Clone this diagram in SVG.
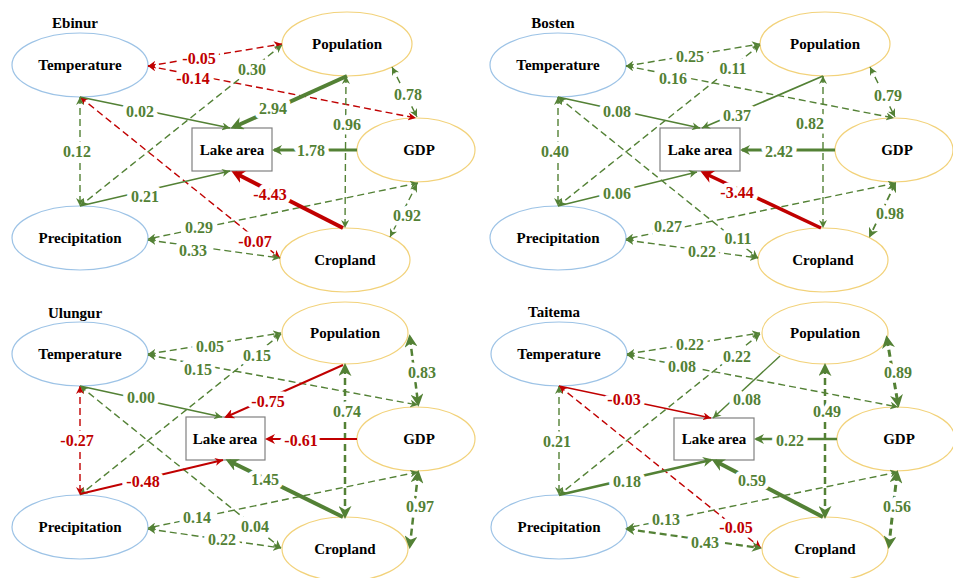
<svg xmlns="http://www.w3.org/2000/svg" width="953" height="578" viewBox="0 0 953 578">
<style>
.bg{fill:#fff}
.nb{fill:#fff;stroke:#9DC3E6;stroke-width:1.2}
.ny{fill:#fff;stroke:#F2D27A;stroke-width:1.2}
.lk{fill:#fff;stroke:#808080;stroke-width:1.2}
.t{font-family:"Liberation Serif","Times New Roman",serif;font-weight:bold;font-size:15px;text-anchor:middle;fill:#000}
.g{stroke:#538135;fill:none;stroke-width:1.4}
.r{stroke:#C00000;fill:none;stroke-width:1.4}
.d{stroke-dasharray:7 4}
.lg{font-size:16px;fill:#538135;stroke:#fff;stroke-width:9;paint-order:stroke;stroke-linejoin:round}
.lr{font-size:16px;fill:#C00000;stroke:#fff;stroke-width:9;paint-order:stroke;stroke-linejoin:round}
</style>
<defs>
<marker id="ags" viewBox="0 0 10 10" refX="10" refY="5" markerWidth="8" markerHeight="8" markerUnits="userSpaceOnUse" orient="auto-start-reverse"><path d="M0,0 L10,5 L0,10 L3,5z" fill="#538135"/></marker>
<marker id="ars" viewBox="0 0 10 10" refX="10" refY="5" markerWidth="8" markerHeight="8" markerUnits="userSpaceOnUse" orient="auto-start-reverse"><path d="M0,0 L10,5 L0,10 L3,5z" fill="#C00000"/></marker>
<marker id="agm" viewBox="0 0 10 10" refX="8" refY="5" markerWidth="10" markerHeight="10" markerUnits="userSpaceOnUse" orient="auto-start-reverse"><path d="M0,0 L10,5 L0,10 L3,5z" fill="#538135"/></marker>
<marker id="arm" viewBox="0 0 10 10" refX="8" refY="5" markerWidth="10" markerHeight="10" markerUnits="userSpaceOnUse" orient="auto-start-reverse"><path d="M0,0 L10,5 L0,10 L3,5z" fill="#C00000"/></marker>
<marker id="agl" viewBox="0 0 10 10" refX="7" refY="5" markerWidth="13" markerHeight="13" markerUnits="userSpaceOnUse" orient="auto-start-reverse"><path d="M0,0 L10,5 L0,10 L3,5z" fill="#538135"/></marker>
<marker id="arl" viewBox="0 0 10 10" refX="7" refY="5" markerWidth="13" markerHeight="13" markerUnits="userSpaceOnUse" orient="auto-start-reverse"><path d="M0,0 L10,5 L0,10 L3,5z" fill="#C00000"/></marker>
</defs>
<rect class="bg" x="0" y="0" width="953" height="578"/>

<!-- ===== Ebinur ===== -->
<g id="ebinur" transform="translate(0,0)">
<text class="t" x="75" y="28">Ebinur</text>
<g id="ebinur-temperature"><ellipse class="nb" cx="80" cy="65" rx="68" ry="32"/><text class="t" x="80" y="70">Temperature</text></g>
<g id="ebinur-precipitation"><ellipse class="nb" cx="80" cy="238" rx="68" ry="32"/><text class="t" x="80" y="243">Precipitation</text></g>
<g id="ebinur-population"><ellipse class="ny" cx="347" cy="44" rx="65" ry="32"/><text class="t" x="347" y="49">Population</text></g>
<g id="ebinur-gdp"><ellipse class="ny" cx="416" cy="150" rx="59" ry="32"/><text class="t" x="419" y="155">GDP</text></g>
<g id="ebinur-cropland"><ellipse class="ny" cx="345" cy="260" rx="65" ry="32"/><text class="t" x="345" y="265">Cropland</text></g>
<g id="ebinur-lake"><rect class="lk" x="192" y="128" width="80" height="43"/><text class="t" x="232" y="155">Lake area</text></g>
<g id="ebinur-connectors">
<line class="r d" x1="148" y1="66" x2="282" y2="44" marker-start="url(#ars)" marker-end="url(#ars)"/>
<line class="r d" x1="148" y1="66" x2="416" y2="118" marker-start="url(#ars)" marker-end="url(#ars)"/>
<line class="r d" x1="80" y1="97" x2="280" y2="258" marker-start="url(#ars)" marker-end="url(#ars)"/>
<line class="g d" x1="80" y1="97" x2="80" y2="206" marker-start="url(#ags)" marker-end="url(#ags)"/>
<line class="g d" x1="282" y1="45" x2="80" y2="206" marker-start="url(#ags)" marker-end="url(#ags)"/>
<line class="g d" x1="392" y1="67" x2="417" y2="117" marker-start="url(#ags)" marker-end="url(#ags)"/>
<line class="g d" x1="346" y1="76" x2="345" y2="228" marker-start="url(#ags)" marker-end="url(#ags)"/>
<line class="g d" x1="418" y1="183" x2="148" y2="239" marker-start="url(#ags)" marker-end="url(#ags)"/>
<line class="g d" x1="417" y1="184" x2="390" y2="237" marker-start="url(#ags)" marker-end="url(#ags)"/>
<line class="g d" x1="148" y1="240" x2="280" y2="258" marker-start="url(#ags)" marker-end="url(#ags)"/>
<line class="g" x1="80" y1="97" x2="230" y2="128" marker-end="url(#ags)"/>
<line class="g" x1="80" y1="206" x2="230" y2="171" marker-end="url(#ags)"/>
<line class="g" style="stroke-width:4" x1="347" y1="76" x2="234" y2="127" marker-end="url(#agl)"/>
<line class="g" style="stroke-width:3" x1="357" y1="150" x2="274" y2="150" marker-end="url(#agm)"/>
<line class="r" style="stroke-width:4" x1="343" y1="228" x2="235" y2="173" marker-end="url(#arl)"/>
<text class="t lr" x="199" y="64">-0.05</text>
<text class="t lr" x="193" y="84">-0.14</text>
<text class="t lr" x="255" y="247">-0.07</text>
<text class="t lg" x="77" y="157">0.12</text>
<text class="t lg" x="252" y="75">0.30</text>
<text class="t lg" x="408" y="100">0.78</text>
<text class="t lg" x="347" y="130">0.96</text>
<text class="t lg" x="199" y="233">0.29</text>
<text class="t lg" x="407" y="221">0.92</text>
<text class="t lg" x="193" y="256">0.33</text>
<text class="t lg" x="140" y="117">0.02</text>
<text class="t lg" x="145" y="202">0.21</text>
<text class="t lg" x="273" y="114">2.94</text>
<text class="t lg" x="311" y="156">1.78</text>
<text class="t lr" x="270" y="200">-4.43</text>
</g>
</g>

<!-- ===== Bosten ===== -->
<g id="bosten" transform="translate(478,0)">
<text class="t" x="75" y="28">Bosten</text>
<g id="bosten-temperature"><ellipse class="nb" cx="80" cy="65" rx="68" ry="32"/><text class="t" x="80" y="70">Temperature</text></g>
<g id="bosten-precipitation"><ellipse class="nb" cx="80" cy="238" rx="68" ry="32"/><text class="t" x="80" y="243">Precipitation</text></g>
<g id="bosten-population"><ellipse class="ny" cx="347" cy="44" rx="65" ry="32"/><text class="t" x="347" y="49">Population</text></g>
<g id="bosten-gdp"><ellipse class="ny" cx="416" cy="150" rx="59" ry="32"/><text class="t" x="419" y="155">GDP</text></g>
<g id="bosten-cropland"><ellipse class="ny" cx="345" cy="260" rx="65" ry="32"/><text class="t" x="345" y="265">Cropland</text></g>
<g id="bosten-lake"><rect class="lk" x="182" y="128" width="80" height="43"/><text class="t" x="222" y="155">Lake area</text></g>
<g id="bosten-connectors">
<line class="g d" x1="148" y1="66" x2="282" y2="44" marker-start="url(#ags)" marker-end="url(#ags)"/>
<line class="g d" x1="148" y1="66" x2="416" y2="118" marker-start="url(#ags)" marker-end="url(#ags)"/>
<line class="g d" x1="80" y1="97" x2="280" y2="258" marker-start="url(#ags)" marker-end="url(#ags)"/>
<line class="g d" x1="80" y1="97" x2="80" y2="206" marker-start="url(#ags)" marker-end="url(#ags)"/>
<line class="g d" x1="282" y1="45" x2="80" y2="206" marker-start="url(#ags)" marker-end="url(#ags)"/>
<line class="g d" x1="392" y1="67" x2="417" y2="117" marker-start="url(#ags)" marker-end="url(#ags)"/>
<line class="g d" x1="345" y1="76" x2="345" y2="228" marker-start="url(#ags)" marker-end="url(#ags)"/>
<line class="g d" x1="418" y1="183" x2="148" y2="239" marker-start="url(#ags)" marker-end="url(#ags)"/>
<line class="g d" style="stroke-width:1.8" x1="417" y1="184" x2="392" y2="236" marker-start="url(#agm)" marker-end="url(#agm)"/>
<line class="g d" x1="148" y1="240" x2="280" y2="258" marker-start="url(#ags)" marker-end="url(#ags)"/>
<line class="g" x1="80" y1="97" x2="222" y2="128" marker-end="url(#ags)"/>
<line class="g" x1="80" y1="206" x2="219" y2="172" marker-end="url(#ags)"/>
<line class="g" style="stroke-width:1.8" x1="345" y1="76" x2="224" y2="128" marker-end="url(#ags)"/>
<line class="g" style="stroke-width:3" x1="357" y1="150" x2="264" y2="150" marker-end="url(#agm)"/>
<line class="r" style="stroke-width:3.5" x1="343" y1="228" x2="226" y2="173" marker-end="url(#arl)"/>
<text class="t lg" x="212" y="62">0.25</text>
<text class="t lg" x="195" y="84">0.16</text>
<text class="t lg" x="260" y="244">0.11</text>
<text class="t lg" x="77" y="157">0.40</text>
<text class="t lg" x="255" y="74">0.11</text>
<text class="t lg" x="410" y="101">0.79</text>
<text class="t lg" x="332" y="129">0.82</text>
<text class="t lg" x="190" y="232">0.27</text>
<text class="t lg" x="412" y="219">0.98</text>
<text class="t lg" x="224" y="257">0.22</text>
<text class="t lg" x="139" y="117">0.08</text>
<text class="t lg" x="139" y="199">0.06</text>
<text class="t lg" x="259" y="121">0.37</text>
<text class="t lg" x="301" y="157">2.42</text>
<text class="t lr" x="259" y="198">-3.44</text>
</g>
</g>

<!-- ===== Ulungur ===== -->
<g id="ulungur" transform="translate(0,289)">
<text class="t" x="75" y="29">Ulungur</text>
<g id="ulungur-temperature"><ellipse class="nb" cx="80" cy="65" rx="68" ry="32"/><text class="t" x="80" y="70">Temperature</text></g>
<g id="ulungur-precipitation"><ellipse class="nb" cx="80" cy="238" rx="68" ry="32"/><text class="t" x="80" y="243">Precipitation</text></g>
<g id="ulungur-population"><ellipse class="ny" cx="345" cy="44" rx="63" ry="31"/><text class="t" x="345" y="49">Population</text></g>
<g id="ulungur-gdp"><ellipse class="ny" cx="416" cy="150" rx="59" ry="32"/><text class="t" x="419" y="155">GDP</text></g>
<g id="ulungur-cropland"><ellipse class="ny" cx="345" cy="260" rx="63" ry="32"/><text class="t" x="345" y="265">Cropland</text></g>
<g id="ulungur-lake"><rect class="lk" x="186" y="128" width="79" height="43"/><text class="t" x="225" y="155">Lake area</text></g>
<g id="ulungur-connectors">
<line class="g d" x1="148" y1="65" x2="281" y2="44" marker-start="url(#ags)" marker-end="url(#ags)"/>
<line class="g d" x1="148" y1="66" x2="418" y2="116" marker-start="url(#ags)" marker-end="url(#ags)"/>
<line class="g d" x1="80" y1="97" x2="281" y2="259" marker-start="url(#ags)" marker-end="url(#ags)"/>
<line class="r d" x1="80" y1="97" x2="80" y2="206" marker-start="url(#ars)" marker-end="url(#ars)"/>
<line class="g d" x1="281" y1="45" x2="80" y2="206" marker-start="url(#ags)" marker-end="url(#ags)"/>
<line class="g d" style="stroke-width:2.5" x1="410" y1="49" x2="418" y2="114" marker-start="url(#agl)" marker-end="url(#agl)"/>
<line class="g d" style="stroke-width:2.5" x1="345" y1="78" x2="345" y2="226" marker-start="url(#agl)" marker-end="url(#agl)"/>
<line class="g d" x1="418" y1="183" x2="148" y2="239" marker-start="url(#ags)" marker-end="url(#ags)"/>
<line class="g d" style="stroke-width:2.5" x1="418" y1="185" x2="410" y2="256" marker-start="url(#agl)" marker-end="url(#agl)"/>
<line class="g d" x1="148" y1="240" x2="281" y2="259" marker-start="url(#ags)" marker-end="url(#ags)"/>
<line class="g" x1="80" y1="97" x2="222" y2="128" marker-end="url(#ags)"/>
<line class="r" style="stroke-width:1.8" x1="80" y1="205" x2="223" y2="171" marker-end="url(#ars)"/>
<line class="r" style="stroke-width:2" x1="343" y1="76" x2="226" y2="128" marker-end="url(#arm)"/>
<line class="r" style="stroke-width:2" x1="357" y1="150" x2="267" y2="150" marker-end="url(#arm)"/>
<line class="g" style="stroke-width:4" x1="343" y1="228" x2="229" y2="172" marker-end="url(#agl)"/>
<text class="t lg" x="210" y="63">0.05</text>
<text class="t lg" x="198" y="86">0.15</text>
<text class="t lg" x="255" y="243">0.04</text>
<text class="t lr" x="77" y="157">-0.27</text>
<text class="t lg" x="257" y="72">0.15</text>
<text class="t lg" x="422" y="89">0.83</text>
<text class="t lg" x="347" y="128">0.74</text>
<text class="t lg" x="197" y="234">0.14</text>
<text class="t lg" x="420" y="223">0.97</text>
<text class="t lg" x="222" y="256">0.22</text>
<text class="t lg" x="141" y="114">0.00</text>
<text class="t lr" x="143" y="198">-0.48</text>
<text class="t lr" x="268" y="118">-0.75</text>
<text class="t lr" x="301" y="157">-0.61</text>
<text class="t lg" x="265" y="196">1.45</text>
</g>
</g>

<!-- ===== Taitema ===== -->
<g id="taitema" transform="translate(478,289)">
<text class="t" x="76" y="28">Taitema</text>
<g id="taitema-temperature"><ellipse class="nb" cx="81" cy="65" rx="68" ry="32"/><text class="t" x="81" y="70">Temperature</text></g>
<g id="taitema-precipitation"><ellipse class="nb" cx="81" cy="238" rx="68" ry="32"/><text class="t" x="81" y="243">Precipitation</text></g>
<g id="taitema-population"><ellipse class="ny" cx="347" cy="44" rx="63" ry="31"/><text class="t" x="347" y="49">Population</text></g>
<g id="taitema-gdp"><ellipse class="ny" cx="418" cy="150" rx="59" ry="32"/><text class="t" x="421" y="155">GDP</text></g>
<g id="taitema-cropland"><ellipse class="ny" cx="347" cy="260" rx="63" ry="32"/><text class="t" x="347" y="265">Cropland</text></g>
<g id="taitema-lake"><rect class="lk" x="196" y="129" width="80" height="42"/><text class="t" x="236" y="155">Lake area</text></g>
<g id="taitema-connectors">
<line class="g d" x1="149" y1="65" x2="282" y2="44" marker-start="url(#ags)" marker-end="url(#ags)"/>
<line class="g d" x1="149" y1="66" x2="420" y2="118" marker-start="url(#ags)" marker-end="url(#ags)"/>
<line class="r d" x1="81" y1="97" x2="283" y2="259" marker-start="url(#ars)" marker-end="url(#ars)"/>
<line class="g d" x1="81" y1="97" x2="81" y2="206" marker-start="url(#ags)" marker-end="url(#ags)"/>
<line class="g d" x1="282" y1="45" x2="81" y2="206" marker-start="url(#ags)" marker-end="url(#ags)"/>
<line class="g d" style="stroke-width:3" x1="409" y1="50" x2="420" y2="115" marker-start="url(#agl)" marker-end="url(#agl)"/>
<line class="g d" style="stroke-width:2.5" x1="347" y1="78" x2="347" y2="226" marker-start="url(#agl)" marker-end="url(#agl)"/>
<line class="g d" x1="420" y1="183" x2="149" y2="239" marker-start="url(#ags)" marker-end="url(#ags)"/>
<line class="g d" style="stroke-width:3" x1="419" y1="185" x2="411" y2="256" marker-start="url(#agl)" marker-end="url(#agl)"/>
<line class="g d" style="stroke-width:2.2" x1="149" y1="240" x2="282" y2="259" marker-start="url(#agm)" marker-end="url(#agm)"/>
<line class="r" style="stroke-width:1.5" x1="81" y1="97" x2="233" y2="129" marker-end="url(#ars)"/>
<line class="g" style="stroke-width:2.5" x1="81" y1="206" x2="233" y2="171" marker-end="url(#agm)"/>
<line class="g" x1="302" y1="67" x2="235" y2="129" marker-end="url(#ags)"/>
<line class="g" style="stroke-width:2.5" x1="359" y1="150" x2="278" y2="150" marker-end="url(#agm)"/>
<line class="g" style="stroke-width:4" x1="345" y1="228" x2="237" y2="172" marker-end="url(#agl)"/>
<text class="t lg" x="212" y="61">0.22</text>
<text class="t lg" x="204" y="83">0.08</text>
<text class="t lr" x="258" y="244">-0.05</text>
<text class="t lg" x="79" y="158">0.21</text>
<text class="t lg" x="259" y="73">0.22</text>
<text class="t lg" x="420" y="89">0.89</text>
<text class="t lg" x="349" y="128">0.49</text>
<text class="t lg" x="188" y="236">0.13</text>
<text class="t lg" x="419" y="223">0.56</text>
<text class="t lg" x="227" y="259">0.43</text>
<text class="t lr" x="146" y="116">-0.03</text>
<text class="t lg" x="149" y="198">0.18</text>
<text class="t lg" x="269" y="116">0.08</text>
<text class="t lg" x="312" y="157">0.22</text>
<text class="t lg" x="274" y="197">0.59</text>
</g>
</g>
</svg>
